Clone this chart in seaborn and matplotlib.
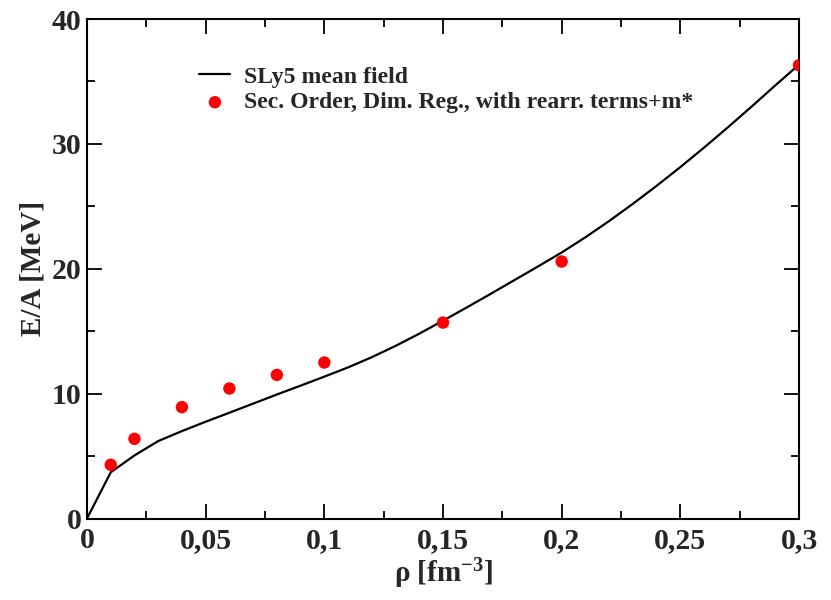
import matplotlib
matplotlib.use("Agg")
import matplotlib.pyplot as plt
from matplotlib.ticker import FixedLocator, FixedFormatter, MultipleLocator
import numpy as np
import pandas as pd
import seaborn as sns

# SLy5 mean-field energy per particle of neutron matter
rho_mf = [0.00, 0.01, 0.02, 0.03, 0.04, 0.05, 0.06, 0.07, 0.08, 0.09, 0.10,
          0.11, 0.12, 0.13, 0.14, 0.15, 0.16, 0.17, 0.18, 0.19, 0.20,
          0.21, 0.22, 0.23, 0.24, 0.25, 0.26, 0.27, 0.28, 0.29, 0.30]
ea_mf = [0.0, 3.7, 5.05, 6.2, 7.0, 7.75, 8.47, 9.2, 9.93, 10.64, 11.36,
         12.1, 12.92, 13.82, 14.8, 15.84, 16.9, 17.98, 19.08, 20.18, 21.3,
         22.52, 23.82, 25.2, 26.64, 28.14, 29.7, 31.32, 32.98, 34.68, 36.35]

# Second-order results (dimensional regularization, rearrangement terms + m*)
rho_so = [0.01, 0.02, 0.04, 0.06, 0.08, 0.10, 0.15, 0.20, 0.30]
ea_so = [4.3, 6.38, 8.92, 10.41, 11.5, 12.49, 15.69, 20.58, 36.3]

label_mf = "SLy5 mean field"
label_so = "Sec. Order, Dim. Reg., with rearr. terms+m*"

x_ticks = [0.0, 0.05, 0.10, 0.15, 0.20, 0.25, 0.30]
x_tick_labels = ["0", "0,05", "0,1", "0,15", "0,2", "0,25", "0,3"]
y_ticks = [0, 10, 20, 30, 40]
y_tick_labels = ["0", "10", "20", "30", "40"]

df_mf = pd.DataFrame({"rho": rho_mf, "ea": ea_mf})
df_so = pd.DataFrame({"rho": rho_so, "ea": ea_so})

sns.set_style("ticks")
plt.rcParams["font.family"] = ["Liberation Serif", "DejaVu Serif"]
plt.rcParams["font.weight"] = "bold"
plt.rcParams["mathtext.fontset"] = "custom"
plt.rcParams["mathtext.rm"] = "Liberation Serif:bold"
plt.rcParams["mathtext.it"] = "Liberation Serif:bold"
plt.rcParams["mathtext.bf"] = "Liberation Serif:bold"
plt.rcParams["mathtext.default"] = "rm"

fig = plt.figure(figsize=(8.31, 6.0), dpi=100)
ax = fig.add_axes([87 / 831, 1 - 518.5 / 600, 712 / 831, 499.5 / 600])

sns.lineplot(data=df_mf, x="rho", y="ea", ax=ax, color="black", linewidth=1.6,
             label=label_mf, sort=False, estimator=None)
sns.scatterplot(data=df_so, x="rho", y="ea", ax=ax, color="#ff0000", s=80,
                edgecolor="none", linewidth=0, label=label_so, zorder=3)

ax.set_xlim(0, 0.3)
ax.set_ylim(0, 40)

ax.xaxis.set_major_locator(FixedLocator(x_ticks))
ax.xaxis.set_major_formatter(FixedFormatter(x_tick_labels))
ax.xaxis.set_minor_locator(MultipleLocator(0.025))
ax.yaxis.set_major_locator(FixedLocator(y_ticks))
ax.yaxis.set_major_formatter(FixedFormatter(y_tick_labels))
ax.yaxis.set_minor_locator(MultipleLocator(5))

for side in ["left", "right", "top", "bottom"]:
    ax.spines[side].set_visible(True)
    ax.spines[side].set_linewidth(1.5)
    ax.spines[side].set_color("black")

ax.tick_params(which="both", direction="in", top=True, right=True,
               color="black", width=1.3)
ax.tick_params(which="major", length=10.5)
ax.tick_params(which="minor", length=6)
ax.tick_params(axis="x", which="major", pad=6, labelsize=21.5)
ax.tick_params(axis="y", which="major", pad=4, labelsize=21.5)
for lab in ax.get_xticklabels() + ax.get_yticklabels():
    lab.set_fontweight("bold")

ax.set_xlabel(r"ρ [fm$^{-3}$]", fontsize=21, fontweight="bold", labelpad=2)
ax.set_ylabel("E/A [MeV]", fontsize=21, fontweight="bold", labelpad=4)

leg = ax.legend(loc="upper left", bbox_to_anchor=(0.158, 0.906), frameon=False,
                borderpad=0, borderaxespad=0, handlelength=1.3,
                handletextpad=0.58, labelspacing=0.18,
                prop={"family": "Liberation Serif", "weight": "bold", "size": 17.1})

fig.savefig("out.png", dpi=100)
